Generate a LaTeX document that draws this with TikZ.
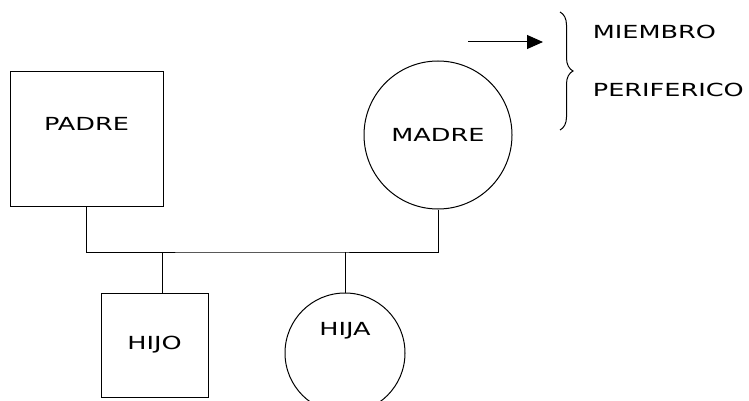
\documentclass[tikz,border=0pt]{standalone}
\usepackage{fontspec}
\usepackage{tikz}
\usetikzlibrary{calc}
\usetikzlibrary{arrows.meta}
\usetikzlibrary{decorations.pathreplacing}
\newfontfamily\manofont[FakeStretch=1.42]{DejaVu Sans}

\begin{document}
\begin{tikzpicture}[x=1pt,y=-1pt,line width=1pt,
		texto/.style={font=\manofont\fontsize{18}{21}\selectfont},
		varon/.style={draw,rectangle,inner sep=0pt},
		mujer/.style={draw,circle,inner sep=0pt}]
		\useasboundingbox (0,0) rectangle (749,401);
		\node[varon,minimum width=153,minimum height=134,label={[texto,yshift=15]center:PADRE}] (padre) at (86.5,139) {};
		\node[mujer,minimum size=148,texto] (madre) at (438,135) {MADRE};
		\node[varon,minimum width=107,minimum height=104,texto] (hijo) at (154.5,345) {HIJO};
		\node[mujer,minimum size=120,label={[texto,yshift=22]center:HIJA}] (hija) at (345,353) {};
		\coordinate (union) at (262,252);
		\draw (padre.south) |- (union) -| (madre.south);
		\draw ([xshift=7.5]hijo.north) -- ([xshift=7.5]hijo.north |- union);
		\draw (hija.north) -- (hija.north |- union);
		\coordinate (flechaA) at (468,42);
		\coordinate (flechaB) at (543,42);
		\draw[-{Triangle[length=16,width=14]}] (flechaA) -- (flechaB);
		\coordinate (llaveA) at (560,12);
		\coordinate (llaveB) at (560,130);
		\draw[decorate,decoration={brace,amplitude=13}] (llaveA) -- (llaveB);
		\node[texto,anchor=west] (miembro) at (589,32) {MIEMBRO};
		\node[texto,anchor=west] (periferico) at (589,90) {PERIFERICO};
	\end{tikzpicture}
\end{document}
